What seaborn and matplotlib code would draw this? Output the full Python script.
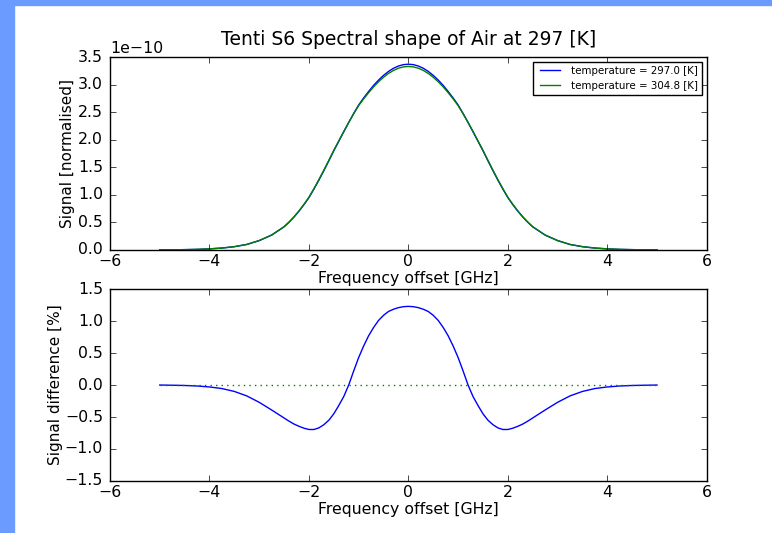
import numpy as np
import matplotlib
matplotlib.use("Agg")
import matplotlib.pyplot as plt
import seaborn as sns
import pandas as pd
from matplotlib.patches import Rectangle

# frequency offset grid [GHz]
freq = [-5.0, -4.75, -4.5, -4.25, -4.0, -3.75, -3.5, -3.25, -3.0, -2.75,
        -2.5, -2.4, -2.3, -2.2, -2.1, -2.0, -1.9, -1.8, -1.7, -1.6,
        -1.5, -1.4, -1.3, -1.2, -1.1, -1.0, -0.9, -0.8, -0.7, -0.6,
        -0.5, -0.4, -0.3, -0.2, -0.1, 0.0, 0.1, 0.2, 0.3, 0.4,
        0.5, 0.6, 0.7, 0.8, 0.9, 1.0, 1.1, 1.2, 1.3, 1.4,
        1.5, 1.6, 1.7, 1.8, 1.9, 2.0, 2.1, 2.2, 2.3, 2.4,
        2.5, 2.75, 3.0, 3.25, 3.5, 3.75, 4.0, 4.25, 4.5, 4.75, 5.0]

# spectral shape at 297.0 K, units of 1e-10
sig_297 = [0.002, 0.003, 0.006, 0.011, 0.020, 0.035, 0.060, 0.100, 0.170, 0.270,
           0.420, 0.504, 0.598, 0.704, 0.822, 0.950, 1.104, 1.267, 1.439, 1.617,
           1.800, 1.972, 2.144, 2.313, 2.476, 2.630, 2.757, 2.875, 2.985, 3.082,
           3.167, 3.239, 3.296, 3.337, 3.362, 3.370, 3.362, 3.337, 3.296, 3.239,
           3.167, 3.082, 2.985, 2.875, 2.757, 2.630, 2.476, 2.313, 2.144, 1.972,
           1.800, 1.617, 1.439, 1.267, 1.104, 0.950, 0.822, 0.704, 0.598, 0.504,
           0.420, 0.270, 0.170, 0.100, 0.060, 0.035, 0.020, 0.011, 0.006, 0.003, 0.002]

# spectral shape at 304.8 K, units of 1e-10
sig_305 = [0.002, 0.003, 0.006, 0.011, 0.020, 0.035, 0.060, 0.100, 0.171, 0.271,
           0.422, 0.507, 0.602, 0.709, 0.828, 0.957, 1.112, 1.276, 1.448, 1.626,
           1.808, 1.978, 2.148, 2.313, 2.471, 2.619, 2.740, 2.853, 2.958, 3.051,
           3.133, 3.202, 3.257, 3.297, 3.321, 3.329, 3.321, 3.297, 3.257, 3.202,
           3.133, 3.051, 2.958, 2.853, 2.740, 2.619, 2.471, 2.313, 2.148, 1.978,
           1.808, 1.626, 1.448, 1.276, 1.112, 0.957, 0.828, 0.709, 0.602, 0.507,
           0.422, 0.271, 0.171, 0.100, 0.060, 0.035, 0.020, 0.011, 0.006, 0.003, 0.002]

# signal difference [%]
diff = [0.000, -0.003, -0.007, -0.015, -0.030, -0.055, -0.100, -0.170, -0.270, -0.390,
        -0.515, -0.565, -0.610, -0.645, -0.675, -0.695, -0.695, -0.670, -0.620, -0.550,
        -0.450, -0.320, -0.180, 0.000, 0.220, 0.430, 0.610, 0.770, 0.900, 1.010,
        1.090, 1.150, 1.185, 1.210, 1.225, 1.230, 1.225, 1.210, 1.185, 1.150,
        1.090, 1.010, 0.900, 0.770, 0.610, 0.430, 0.220, 0.000, -0.180, -0.320,
        -0.450, -0.550, -0.620, -0.670, -0.695, -0.695, -0.675, -0.645, -0.610, -0.565,
        -0.515, -0.390, -0.270, -0.170, -0.100, -0.055, -0.030, -0.015, -0.007, -0.003, 0.000]

labels = ["temperature = 297.0 [K]", "temperature = 304.8 [K]"]

plt.style.use("classic")
plt.rcParams["font.family"] = ["DejaVu Sans"]
plt.rcParams["xtick.major.pad"] = 3
plt.rcParams["ytick.major.pad"] = 5

df = pd.DataFrame({"freq": freq,
                   "a": np.array(sig_297) * 1e-10,
                   "b": np.array(sig_305) * 1e-10,
                   "diff": diff,
                   "zero": [0.0] * len(freq)})

fig = plt.figure(figsize=(7.72, 5.33), dpi=100, facecolor="white")
ax1 = fig.add_axes([0.1425, 0.531, 0.773, 0.362])
ax2 = fig.add_axes([0.1425, 0.0976, 0.773, 0.360])

sns.lineplot(data=df, x="freq", y="a", ax=ax1, color="b", lw=1.0, label=labels[0])
sns.lineplot(data=df, x="freq", y="b", ax=ax1, color="g", lw=1.0, label=labels[1])
ax1.set_xlim(-6, 6)
ax1.set_ylim(0, 3.5e-10)
ax1.set_title("Tenti S6 Spectral shape of Air at 297 [K]", fontsize=13.5, pad=9)
ax1.set_xlabel("Frequency offset [GHz]", fontsize=11.3, labelpad=1)
ax1.set_ylabel("Signal [normalised]", fontsize=11, labelpad=2)
ax1.legend(loc="upper right", fontsize=7.4, frameon=True, fancybox=False,
           handlelength=2.5, borderaxespad=0.45)

sns.lineplot(data=df, x="freq", y="diff", ax=ax2, color="b", lw=1.0)
sns.lineplot(data=df, x="freq", y="zero", ax=ax2, color="g", lw=1.0, linestyle=":")
ax2.set_xlim(-6, 6)
ax2.set_ylim(-1.5, 1.5)
ax2.set_xlabel("Frequency offset [GHz]", fontsize=11.3, labelpad=1)
ax2.set_ylabel("Signal difference [%]", fontsize=11, labelpad=1)

for ax in (ax1, ax2):
    ax.tick_params(labelsize=11.3)
ax1.yaxis.get_offset_text().set_fontsize(11.3)

# screenshot frame
fig.patches.append(Rectangle((0, 0), 14 / 772, 1, transform=fig.transFigure,
                             color="#6b9bff", zorder=10))
fig.patches.append(Rectangle((0, 1 - 5 / 533), 1, 5 / 533, transform=fig.transFigure,
                             color="#6b9bff", zorder=10))

fig.savefig("out.png", dpi=100, facecolor="white")
